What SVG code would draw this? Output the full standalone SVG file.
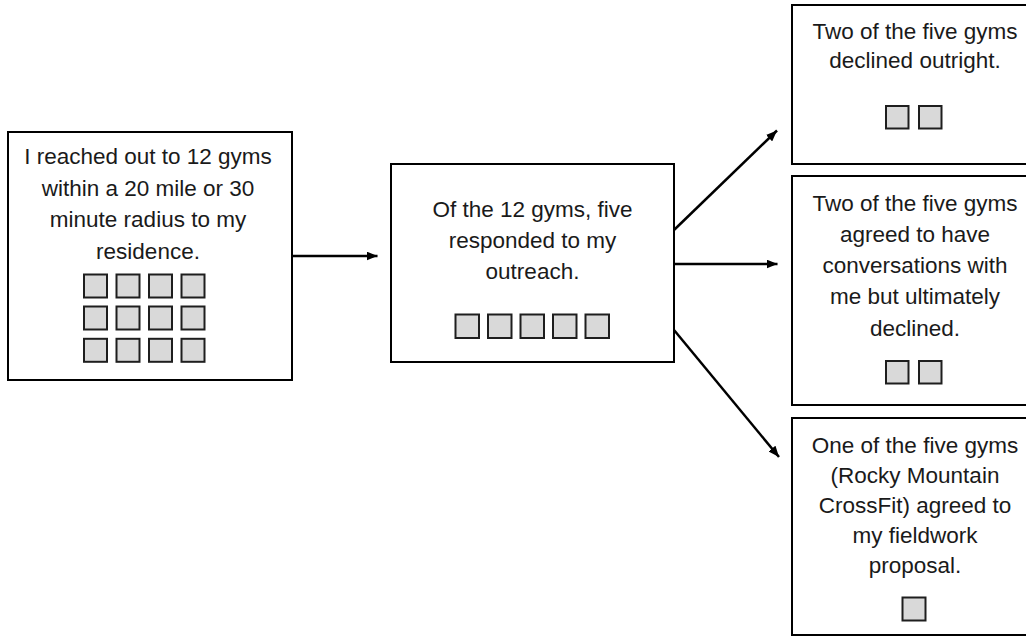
<svg xmlns="http://www.w3.org/2000/svg" width="1026" height="637" viewBox="0 0 1026 637">
<style>
.box{fill:#fff;stroke:#000;stroke-width:2}
.sq{fill:#d9d9d9;stroke:#1e1e1e;stroke-width:2}
.t{font-family:"Liberation Sans",Arial,sans-serif;font-size:22.5px;fill:#1a1a1a;text-anchor:middle}
.c{stroke:#000;stroke-width:2.5;fill:none}
</style>
<defs>
<marker id="ah" markerUnits="userSpaceOnUse" markerWidth="11" markerHeight="9" refX="11" refY="4.5" orient="auto">
<path d="M0,0 L11,4.5 L0,9 z" fill="#000"/>
</marker>
</defs>
<rect width="1026" height="637" fill="#fff"/>
<g id="connectors">
<line class="c" x1="292" y1="256" x2="377.5" y2="256" marker-end="url(#ah)"/>
<line class="c" x1="674" y1="230" x2="777" y2="130.5" marker-end="url(#ah)"/>
<line class="c" x1="674" y1="264" x2="777.5" y2="264" marker-end="url(#ah)"/>
<line class="c" x1="674" y1="330" x2="779" y2="457" marker-end="url(#ah)"/>
</g>
<g id="n1">
<rect class="box" x="8" y="132" width="284" height="248"/>
<text class="t" x="148" y="164">I reached out to 12 gyms</text>
<text class="t" x="148" y="195.5">within a 20 mile or 30</text>
<text class="t" x="148" y="227">minute radius to my</text>
<text class="t" x="148" y="258.5">residence.</text>
<g>
<rect class="sq" x="84" y="274.5" width="23" height="23"/>
<rect class="sq" x="116.5" y="274.5" width="23" height="23"/>
<rect class="sq" x="149" y="274.5" width="23" height="23"/>
<rect class="sq" x="181.5" y="274.5" width="23" height="23"/>
<rect class="sq" x="84" y="306.5" width="23" height="23"/>
<rect class="sq" x="116.5" y="306.5" width="23" height="23"/>
<rect class="sq" x="149" y="306.5" width="23" height="23"/>
<rect class="sq" x="181.5" y="306.5" width="23" height="23"/>
<rect class="sq" x="84" y="338.8" width="23" height="23"/>
<rect class="sq" x="116.5" y="338.8" width="23" height="23"/>
<rect class="sq" x="149" y="338.8" width="23" height="23"/>
<rect class="sq" x="181.5" y="338.8" width="23" height="23"/>
</g>
</g>
<g id="n2">
<rect class="box" x="391" y="164" width="283" height="198"/>
<text class="t" x="532.5" y="217">Of the 12 gyms, five</text>
<text class="t" x="532.5" y="248">responded to my</text>
<text class="t" x="532.5" y="279">outreach.</text>
<rect class="sq" x="455.5" y="314.5" width="23.5" height="23.5"/>
<rect class="sq" x="488" y="314.5" width="23.5" height="23.5"/>
<rect class="sq" x="520.5" y="314.5" width="23.5" height="23.5"/>
<rect class="sq" x="553" y="314.5" width="23.5" height="23.5"/>
<rect class="sq" x="585.5" y="314.5" width="23.5" height="23.5"/>
</g>
<g id="n3">
<rect class="box" x="792" y="5" width="250" height="159"/>
<text class="t" x="915" y="38.5">Two of the five gyms</text>
<text class="t" x="915" y="68">declined outright.</text>
<rect class="sq" x="886" y="106" width="22.5" height="22.5"/>
<rect class="sq" x="919" y="106" width="22.5" height="22.5"/>
</g>
<g id="n4">
<rect class="box" x="792" y="176" width="250" height="229"/>
<text class="t" x="915" y="210.5">Two of the five gyms</text>
<text class="t" x="915" y="241.8">agreed to have</text>
<text class="t" x="915" y="273">conversations with</text>
<text class="t" x="915" y="304.3">me but ultimately</text>
<text class="t" x="915" y="335.5">declined.</text>
<rect class="sq" x="886" y="361" width="22.5" height="22.5"/>
<rect class="sq" x="919" y="361" width="22.5" height="22.5"/>
</g>
<g id="n5">
<rect class="box" x="792" y="418" width="250" height="217"/>
<text class="t" x="915" y="452.5">One of the five gyms</text>
<text class="t" x="915" y="482.5">(Rocky Mountain</text>
<text class="t" x="915" y="512.5">CrossFit) agreed to</text>
<text class="t" x="915" y="542.5">my fieldwork</text>
<text class="t" x="915" y="572.5">proposal.</text>
<rect class="sq" x="902.5" y="597.5" width="23" height="23"/>
</g>
</svg>
